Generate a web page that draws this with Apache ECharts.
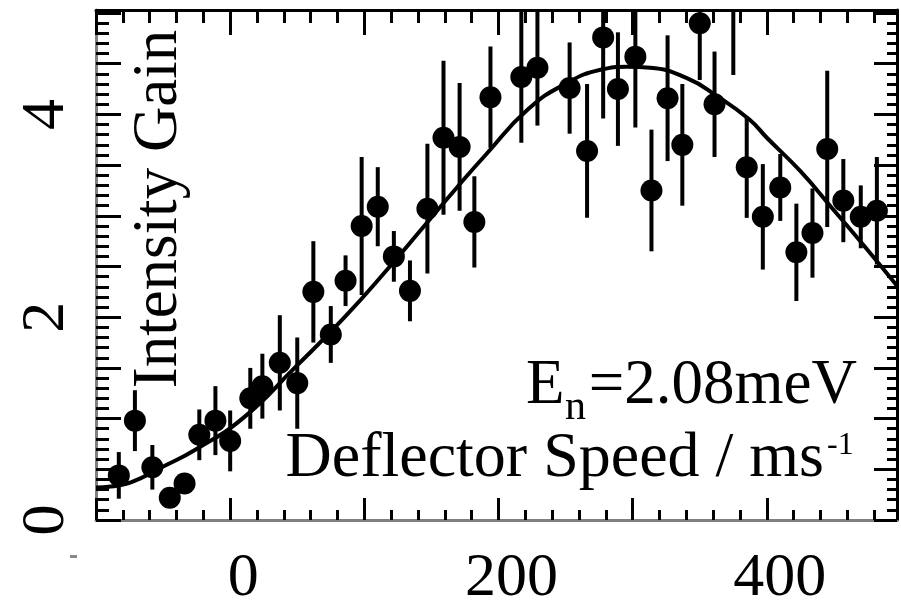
<!DOCTYPE html>
<html>
<head>
<meta charset="utf-8">
<script src="https://cdn.jsdelivr.net/npm/echarts@6/dist/echarts.min.js"></script>
<style>
  html, body { margin: 0; background: #fff; }
  #chart { width: 901px; height: 610px; }
</style>
</head>
<body>
<div id="chart"></div>
<script>
// measured points: deflector speed (m/s), intensity gain, error bar half-length
const speeds = [-83, -71, -58, -45, -34, -23, -11, 0, 15, 24, 37, 50, 62, 75, 86, 98, 110, 122, 134, 147,
  159, 171, 182, 194, 217, 229, 253, 266, 278, 289, 302, 314, 326, 337, 350, 361, 375, 385, 397, 410,
  422, 434, 445, 457, 470, 482];
const gains = [0.44, 0.98, 0.52, 0.22, 0.36, 0.84, 0.98, 0.78, 1.20, 1.32, 1.55, 1.35, 2.25, 1.83, 2.36, 2.90, 3.09, 2.60, 2.26, 3.07,
  3.77, 3.68, 2.94, 4.17, 4.37, 4.46, 4.26, 3.64, 4.76, 4.25, 4.57, 3.25, 4.16, 3.70, 4.90, 4.10, 5.10, 3.48, 2.99, 3.28,
  2.64, 2.83, 3.66, 3.15, 2.99, 3.05];
const errors = [0.23, 0.30, 0.22, 0.08, 0.08, 0.25, 0.34, 0.30, 0.30, 0.32, 0.47, 0.45, 0.50, 0.28, 0.25, 0.68, 0.39, 0.25, 0.30, 0.64,
  0.76, 0.63, 0.45, 0.50, 0.65, 0.57, 0.45, 0.66, 0.80, 0.56, 0.70, 0.60, 0.62, 0.60, 0.56, 0.52, 0.71, 0.50, 0.52, 0.33,
  0.48, 0.44, 0.77, 0.41, 0.31, 0.53];

// fitted curve
const fitSpeeds = [-100, -89, -74, -51, -25, 10, 48, 86, 119, 144, 169, 191, 222, 251, 276, 296, 313, 340, 363, 387, 400, 425, 449, 474, 497];
const fitGains = [0.32, 0.33, 0.37, 0.52, 0.70, 1.01, 1.50, 2.01, 2.50, 2.89, 3.28, 3.61, 4.05, 4.31, 4.44, 4.47, 4.46, 4.36, 4.18, 3.95, 3.77, 3.44, 3.07, 2.68, 2.31];

const xTickLabels = [0, 200, 400];
const yTickLabels = [0, 2, 4];

const FONT = 'Liberation Serif';
const X_MIN = -100, X_MAX = 497, Y_MIN = 0, Y_MAX = 5.03;

function xAx(position, interval, len, line) {
  return {
    type: 'value', position, min: X_MIN, max: X_MAX, interval,
    axisLine: { show: !!line, onZero: false, lineStyle: { color: line || '#000', width: 3 } },
    axisTick: { inside: true, length: len, lineStyle: { color: '#000', width: 3 } },
    axisLabel: { show: false },
    splitLine: { show: false }
  };
}
function yAx(position, interval, len, line) {
  return {
    type: 'value', position, min: Y_MIN, max: Y_MAX, interval,
    axisLine: { show: !!line, onZero: false, lineStyle: { color: line || '#000', width: 3 } },
    axisTick: { inside: true, length: len, lineStyle: { color: '#000', width: 3 } },
    axisLabel: { show: false },
    splitLine: { show: false }
  };
}

const xMain = xAx('bottom', 100, 22, '#808080');
xMain.axisLabel = {
  show: true, margin: 28, padding: [0, 0, 0, 26],
  fontFamily: FONT, fontSize: 62, color: '#000',
  formatter: v => xTickLabels.includes(v) ? String(v) : ''
};
const yMain = yAx('left', 0.5, 25, '#808080');
yMain.axisLabel = {
  show: true, rotate: 90, margin: 18,
  fontFamily: FONT, fontSize: 62, color: '#000',
  formatter: v => yTickLabels.includes(v) ? String(v) : ''
};

const chart = echarts.init(document.getElementById('chart'));
chart.setOption({
  animation: false,
  backgroundColor: '#fff',
  grid: { left: 96, top: 10, width: 801, height: 513, containLabel: false },
  xAxis: [xMain, xAx('bottom', 20, 10), xAx('top', 100, 25, '#000'), xAx('top', 20, 13)],
  yAxis: [yMain, yAx('left', 0.1, 13), yAx('right', 0.5, 23, '#000'), yAx('right', 0.1, 10)],
  series: [
    {
      type: 'line', xAxisIndex: 0, yAxisIndex: 0,
      data: fitSpeeds.map((s, i) => [s, fitGains[i]]),
      smooth: true, symbol: 'none', clip: true,
      lineStyle: { color: '#000', width: 4 }
    },
    {
      type: 'custom', xAxisIndex: 0, yAxisIndex: 0, clip: true,
      data: speeds.map((s, i) => [s, gains[i], errors[i]]),
      renderItem: function (params, api) {
        const x = api.value(0), y = api.value(1), e = api.value(2);
        const p1 = api.coord([x, y + e]);
        const p2 = api.coord([x, y - e]);
        return {
          type: 'line',
          shape: { x1: p1[0], y1: p1[1], x2: p2[0], y2: p2[1] },
          style: { stroke: '#000', lineWidth: 4 }
        };
      }
    },
    {
      type: 'scatter', xAxisIndex: 0, yAxisIndex: 0, clip: true,
      data: speeds.map((s, i) => [s, gains[i]]),
      symbol: 'circle', symbolSize: 22,
      itemStyle: { color: '#000', opacity: 1 }
    }
  ],
  graphic: [
    { type: 'text', x: 159, y: 209, rotation: Math.PI / 2,
      style: { text: 'Intensity Gain', font: '63px "Liberation Serif"', fill: '#000', align: 'center', verticalAlign: 'middle' } },
    { type: 'text', x: 526, y: 386,
      style: { text: 'E', font: '63px "Liberation Serif"', fill: '#000', align: 'left', verticalAlign: 'middle' } },
    { type: 'text', x: 565, y: 408,
      style: { text: 'n', font: '42px "Liberation Serif"', fill: '#000', align: 'left', verticalAlign: 'middle' } },
    { type: 'text', x: 857, y: 386,
      style: { text: '=2.08meV', font: '63px "Liberation Serif"', fill: '#000', align: 'right', verticalAlign: 'middle' } },
    { type: 'text', x: 824, y: 459,
      style: { text: 'Deflector Speed / ms', font: '64px "Liberation Serif"', fill: '#000', align: 'right', verticalAlign: 'middle' } },
    { type: 'text', x: 827, y: 446,
      style: { text: '-1', font: '32px "Liberation Serif"', fill: '#000', align: 'left', verticalAlign: 'middle' } },
    { type: 'rect', shape: { x: 70, y: 555, width: 7, height: 3 }, style: { fill: '#888' } }
  ]
});
</script>
</body>
</html>
